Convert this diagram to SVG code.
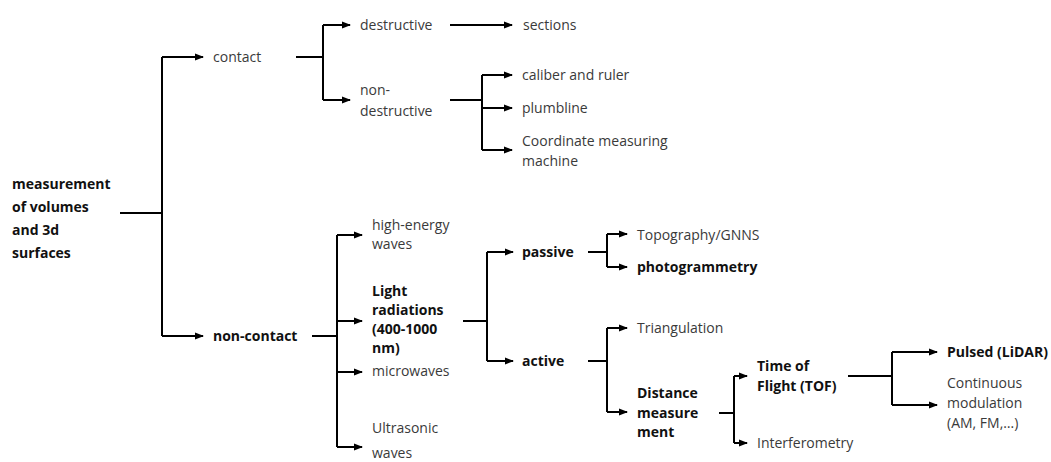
<svg xmlns="http://www.w3.org/2000/svg" width="1051" height="462" viewBox="0 0 1051 462">
<style>
text{font-family:"Open Sans","Liberation Sans",sans-serif;font-size:14px;fill:#3a3a3a}
.b{font-weight:bold;fill:#111}
.c path{fill:none;stroke:#000;stroke-width:2}
.c .a{marker-end:url(#ah)}
</style>
<defs>
<marker id="ah" markerUnits="userSpaceOnUse" markerWidth="9" markerHeight="8" refX="8" refY="4" orient="auto">
<path d="M0,0.5 L9,4 L0,7.5 z" fill="#000"/>
</marker>
</defs>
<rect width="1051" height="462" fill="#fff"/>
<g class="c" id="connectors">
<path d="M120 213 H162 M162 57 V336"/>
<path class="a" d="M162 57 H203"/>
<path class="a" d="M162 336 H203"/>
<path d="M296 57 H323 M323 25 V100"/>
<path class="a" d="M323 25 H350"/>
<path class="a" d="M323 100 H350"/>
<path class="a" d="M450 25 H512"/>
<path d="M450 100 H482 M482 75 V150"/>
<path class="a" d="M482 75 H512"/>
<path class="a" d="M482 108 H512"/>
<path class="a" d="M482 150 H512"/>
<path d="M312 336 H337 M337 235 V447"/>
<path class="a" d="M337 235 H362"/>
<path class="a" d="M337 321 H362"/>
<path class="a" d="M337 372 H362"/>
<path class="a" d="M337 447 H362"/>
<path d="M463 321 H487 M487 252 V361"/>
<path class="a" d="M487 252 H513"/>
<path class="a" d="M487 361 H513"/>
<path d="M588 252 H607 M607 234 V267"/>
<path class="a" d="M607 234 H627"/>
<path class="a" d="M607 267 H627"/>
<path d="M588 361 H607 M607 328 V412"/>
<path class="a" d="M607 328 H627"/>
<path class="a" d="M607 412 H627"/>
<path d="M719 413 H734 M734 376 V443"/>
<path class="a" d="M734 376 H747"/>
<path class="a" d="M734 443 H747"/>
<path d="M848 376 H892 M892 352 V405"/>
<path class="a" d="M892 352 H937"/>
<path class="a" d="M892 405 H937"/>
</g>
<g id="root"><text class="b" x="12" y="189">measurement<tspan x="12" dy="23">of volumes</tspan><tspan x="12" dy="23">and 3d</tspan><tspan x="12" dy="23">surfaces</tspan></text></g>
<g id="contact"><text x="213" y="62">contact</text></g>
<g id="destructive"><text x="360" y="30">destructive</text></g>
<g id="sections"><text x="523" y="30">sections</text></g>
<g id="non-destructive"><text x="360" y="95">non-<tspan x="360" dy="21">destructive</tspan></text></g>
<g id="caliber"><text x="522" y="80">caliber and ruler</text></g>
<g id="plumbline"><text x="522" y="113">plumbline</text></g>
<g id="cmm"><text x="522" y="146">Coordinate measuring<tspan x="522" dy="20">machine</tspan></text></g>
<g id="non-contact"><text class="b" x="213" y="341">non-contact</text></g>
<g id="high-energy"><text x="372" y="230">high-energy<tspan x="372" dy="19">waves</tspan></text></g>
<g id="light"><text class="b" x="372" y="296">Light<tspan x="372" dy="19">radiations</tspan><tspan x="372" dy="19">(400-1000</tspan><tspan x="372" dy="19">nm)</tspan></text></g>
<g id="microwaves"><text x="372" y="376">microwaves</text></g>
<g id="ultrasonic"><text x="372" y="433">Ultrasonic<tspan x="372" dy="25">waves</tspan></text></g>
<g id="passive"><text class="b" x="522" y="257">passive</text></g>
<g id="active"><text class="b" x="522" y="366">active</text></g>
<g id="topography"><text x="637" y="240">Topography/GNNS</text></g>
<g id="photogrammetry"><text class="b" x="637" y="272">photogrammetry</text></g>
<g id="triangulation"><text x="637" y="333">Triangulation</text></g>
<g id="distance"><text class="b" x="637" y="398">Distance<tspan x="637" dy="20">measure</tspan><tspan x="637" dy="19">ment</tspan></text></g>
<g id="tof"><text class="b" x="757" y="371">Time of<tspan x="757" dy="20">Flight (TOF)</tspan></text></g>
<g id="interferometry"><text x="757" y="448">Interferometry</text></g>
<g id="pulsed"><text class="b" x="947" y="357">Pulsed (LiDAR)</text></g>
<g id="continuous"><text x="947" y="388">Continuous<tspan x="947" dy="20">modulation</tspan><tspan x="947" dy="20">(AM, FM,…)</tspan></text></g>
</svg>
